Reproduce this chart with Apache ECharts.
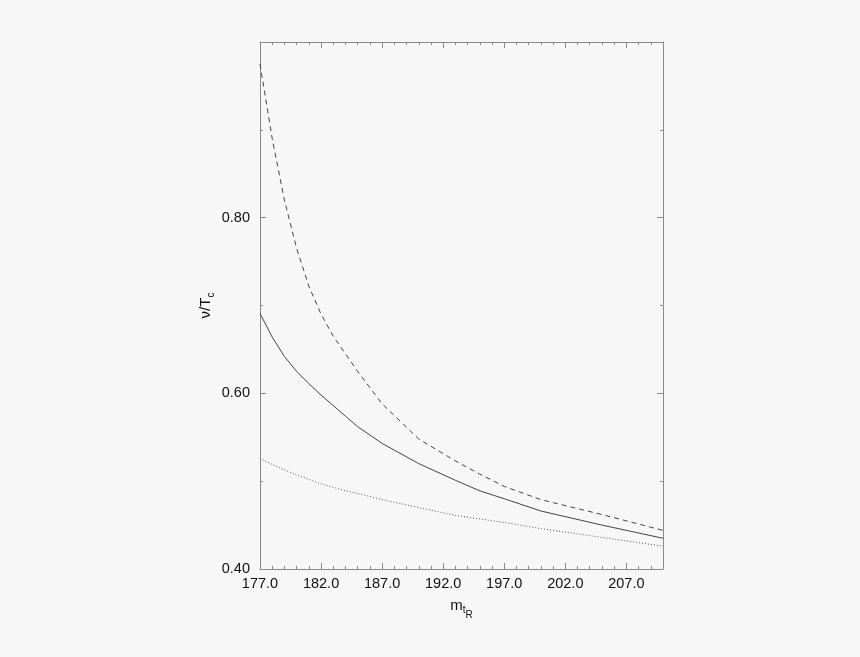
<!DOCTYPE html>
<html>
<head>
<meta charset="utf-8">
<script src="https://cdn.jsdelivr.net/npm/echarts@6/dist/echarts.min.js"></script>
<style>
html,body{margin:0;padding:0;background:#f7f7f7;}
#chart_main{width:860px;height:657px;}
</style>
</head>
<body>
<div id="chart_main"></div>
<script type="text/javascript">
// m_tR values
var mt = [177, 178, 179, 180, 181, 182, 183, 184, 185, 187, 190, 193, 195, 197, 200, 205, 210];
// v/Tc curves
var solid  = [0.691, 0.664, 0.642, 0.625, 0.611, 0.598, 0.586, 0.574, 0.562, 0.543, 0.520, 0.501, 0.489, 0.480, 0.466, 0.450, 0.435];
var dashed = [0.975, 0.890, 0.820, 0.765, 0.722, 0.690, 0.665, 0.645, 0.625, 0.588, 0.548, 0.523, 0.508, 0.494, 0.479, 0.462, 0.444];
var dotted = [0.526, 0.519, 0.513, 0.507, 0.502, 0.497, 0.493, 0.489, 0.486, 0.479, 0.470, 0.461, 0.457, 0.453, 0.446, 0.436, 0.426];
var xMin = 177, xMax = 210, xMajor = 5;
var yMin = 0.40, yMax = 1.00, yMajor = 0.2;

function pairs(ys){
	var out = [];
	for(var i=0;i<mt.length;i++){
		out.push([mt[i], ys[i]]);
	}
	return out;
}

var lineCol = '#8a8a8a';
var font = 'Liberation Sans, Arial, sans-serif';

function xAx(pos, step, len, labels, line){
	return {
		type:'value', position:pos, min:xMin, max:xMax, interval:step,
		axisLine:{show:line, onZero:false, lineStyle:{color:lineCol,width:1}},
		axisTick:{show:true, inside:true, length:len, lineStyle:{color:lineCol}},
		axisLabel:{show:labels, margin:7, color:'#111', fontSize:14.5, fontFamily:font,
			formatter:function(v){ return (v - xMin) % xMajor === 0 && v < xMax ? v.toFixed(1) : ''; }},
		splitLine:{show:false}
	};
}
function yAx(pos, labels){
	return {
		type:'value', position:pos, min:yMin, max:yMax, interval:yMajor,
		axisLine:{show:true, onZero:false, lineStyle:{color:lineCol,width:1}},
		axisTick:{show:true, inside:true, length:6, lineStyle:{color:lineCol}},
		minorTick:{show:true, splitNumber:2, length:3, lineStyle:{color:lineCol}},
		axisLabel:{show:labels, margin:10, color:'#111', fontSize:14.5, fontFamily:font,
			formatter:function(v){ return v < yMax - 1e-6 ? v.toFixed(2) : ''; }},
		splitLine:{show:false}
	};
}

var myChart = echarts.init(document.getElementById('chart_main'));
var xs = [xAx('bottom',1,3,true,true), xAx('bottom',xMajor,6,false,false), xAx('top',1,3,false,true), xAx('top',xMajor,6,false,false)];
xs[0].name = '{m|m}{t|t}{r|R}';
xs[0].nameLocation = 'middle';
xs[0].nameGap = 23;
xs[0].nameTextStyle = {rich:{
	m:{fontSize:15, fontFamily:font, color:'#111'},
	t:{fontSize:10, fontFamily:font, color:'#111', padding:[9,0,0,0]},
	r:{fontSize:10, fontFamily:font, color:'#111', padding:[18,0,0,0]}
}};
var ys = [yAx('left',true), yAx('right',false)];
ys[0].name = '{a|ν/T}{c|c}';
ys[0].nameLocation = 'middle';
ys[0].nameRotate = 90;
ys[0].nameGap = 44;
ys[0].nameTextStyle = {rich:{
	a:{fontSize:15, fontFamily:font, color:'#111'},
	c:{fontSize:10, fontFamily:font, color:'#111', padding:[10,0,0,0]}
}};

var option = {
	backgroundColor:'#f7f7f7',
	animation:false,
	grid:{left:260, right:197, top:42, bottom:88},
	xAxis:xs,
	yAxis:ys,
	series:[
		{type:'line', data:pairs(dashed), showSymbol:false, lineStyle:{color:'#444', width:1, type:[5,4]}},
		{type:'line', data:pairs(solid), showSymbol:false, lineStyle:{color:'#444', width:1}},
		{type:'line', data:pairs(dotted), showSymbol:false, lineStyle:{color:'#555', width:1, type:[1,2]}}
	]
};
myChart.setOption(option);
</script>
</body>
</html>
